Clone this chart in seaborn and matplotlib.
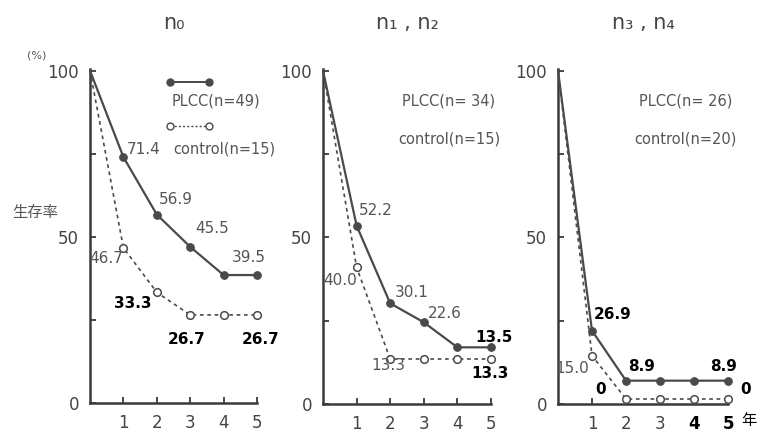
import matplotlib
matplotlib.use("Agg")
import numpy as np
import pandas as pd
import seaborn as sns
import matplotlib.pyplot as plt

# data (y = plotted position, labels = printed values)
years = [0, 1, 2, 3, 4, 5]

plcc_n0 = [100, 74, 56.7, 47, 38.5, 38.5]
ctrl_n0 = [100, 46.7, 33.3, 26.5, 26.5, 26.5]
plcc_n12 = [100, 53.5, 30.2, 24.5, 17, 17]
ctrl_n12 = [100, 41, 13.5, 13.5, 13.5, 13.5]
plcc_n34 = [100, 22, 7, 7, 7, 7]
ctrl_n34 = [100, 14.5, 1.5, 1.5, 1.5, 1.5]

titles = ["n₀", "n₁ , n₂", "n₃ , n₄"]
legend_plcc = ["PLCC(n=49)", "PLCC(n= 34)", "PLCC(n= 26)"]
legend_ctrl = ["control(n=15)", "control(n=15)", "control(n=20)"]

# (year, text) for the printed numbers
lab_plcc_n0 = [(1, "71.4"), (2, "56.9"), (3, "45.5"), (5, "39.5")]
lab_ctrl_n0 = [(1, "46.7"), (2, "33.3"), (3, "26.7"), (5, "26.7")]
lab_plcc_n12 = [(1, "52.2"), (2, "30.1"), (3, "22.6"), (5, "13.5")]
lab_ctrl_n12 = [(1, "40.0"), (2, "13.3"), (5, "13.3")]
lab_plcc_n34 = [(1, "26.9"), (2, "8.9"), (5, "8.9")]
lab_ctrl_n34 = [(1, "15.0"), (2, "0"), (5, "0")]

# label placement: (dx px, dy px, ha, bold)
pos_plcc = [
    [(3, 8, "left", False), (2, 15, "left", False), (5, 18, "left", False), (-8, 18, "center", False)],
    [(2, 15, "left", False), (5, 11, "left", False), (4, 9, "left", False), (3, 10, "center", True)],
    [(2, 16, "left", True), (2, 14, "left", True), (-4, 14, "center", True)],
]
pos_ctrl = [
    [(0, -11, "right", False), (-5, -11, "right", True), (-4, -25, "center", True), (4, -25, "center", True)],
    [(0, -13, "right", False), (-2, -7, "center", False), (-1, -14, "center", True)],
    [(-3, -13, "right", False), (-25, 10, "center", True), (12, 10, "left", True)],
]

sns.set_style("ticks")
plt.rcParams["font.family"] = ["DejaVu Sans", "Noto Sans CJK JP"]

fig = plt.figure(figsize=(7.57, 4.34), dpi=100)
boxes = [
    [90 / 757, 1 - 403 / 434, 167 / 757, 334 / 434],
    [323 / 757, 1 - 404 / 434, 168 / 757, 335 / 434],
    [558 / 757, 1 - 404 / 434, 170 / 757, 335 / 434],
]
plcc_all = [plcc_n0, plcc_n12, plcc_n34]
ctrl_all = [ctrl_n0, ctrl_n12, ctrl_n34]
lab_plcc_all = [lab_plcc_n0, lab_plcc_n12, lab_plcc_n34]
lab_ctrl_all = [lab_ctrl_n0, lab_ctrl_n12, lab_ctrl_n34]

line_col = "#4a4a4a"
text_col = "#555555"

for i in range(3):
    ax = fig.add_axes(boxes[i])
    df = pd.DataFrame({"year": years, "plcc": plcc_all[i], "ctrl": ctrl_all[i]})
    sns.lineplot(data=df, x="year", y="ctrl", ax=ax, color=line_col, lw=1.2,
                 dashes=False, linestyle=(0, (2.2, 2.2)), marker="o", markersize=5.5,
                 markerfacecolor="white", markeredgecolor=line_col, markeredgewidth=1.1,
                 markevery=slice(1, None), clip_on=False, zorder=3)
    sns.lineplot(data=df, x="year", y="plcc", ax=ax, color=line_col, lw=1.6,
                 marker="o", markersize=5.5, markerfacecolor=line_col,
                 markeredgecolor=line_col, markevery=slice(1, None),
                 clip_on=False, zorder=4)

    ax.set_xlim(0, 5)
    ax.set_ylim(0, 100.5)
    ax.set_xticks([1, 2, 3, 4, 5])
    ax.set_yticks([0, 25, 50, 75, 100])
    ax.set_yticklabels(["0", "", "50", "", "100"])
    ax.tick_params(direction="in", length=4, width=1.3, colors="#3a3a3a",
                   labelsize=12, labelcolor="#444444")
    ax.tick_params(axis="x", pad=8)
    ax.tick_params(axis="y", pad=8)
    for s in ["top", "right"]:
        ax.spines[s].set_visible(False)
    for s in ["left", "bottom"]:
        ax.spines[s].set_linewidth(1.8)
        ax.spines[s].set_color("#3a3a3a")
    ax.set_xlabel("")
    ax.set_ylabel("")

    ax.set_title(titles[i], fontsize=15, color="#444444", pad=29)

    for (yr, txt), (dx, dy, ha, bold) in zip(lab_plcc_all[i], pos_plcc[i]):
        ax.annotate(txt, (yr, plcc_all[i][yr]), xytext=(dx, dy), textcoords="offset pixels",
                    ha=ha, va="center", fontsize=11,
                    color="black" if bold else text_col,
                    fontweight="bold" if bold else "normal")
    for (yr, txt), (dx, dy, ha, bold) in zip(lab_ctrl_all[i], pos_ctrl[i]):
        ax.annotate(txt, (yr, ctrl_all[i][yr]), xytext=(dx, dy), textcoords="offset pixels",
                    ha=ha, va="center", fontsize=11,
                    color="black" if bold else text_col,
                    fontweight="bold" if bold else "normal")

    if i == 0:
        # hand drawn legend samples
        ax.plot([0.48, 0.71], [0.96, 0.96], transform=ax.transAxes, color=line_col, lw=1.4,
                marker="o", markersize=5, clip_on=False)
        ax.plot([0.48, 0.71], [0.83, 0.83], transform=ax.transAxes, color=line_col, lw=1,
                linestyle=(0, (1.5, 1.5)), marker="o", markersize=5, markerfacecolor="white",
                clip_on=False)
        ax.text(0.49, 0.905, legend_plcc[i], transform=ax.transAxes, fontsize=10.5,
                color=text_col, va="center", ha="left")
        ax.text(0.50, 0.76, legend_ctrl[i], transform=ax.transAxes, fontsize=10.5,
                color=text_col, va="center", ha="left")
        ax.text(-0.32, 1.04, "(%)", transform=ax.transAxes, fontsize=8,
                color=text_col, ha="center", va="center")
        ax.text(-0.33, 0.57, "生存率", transform=ax.transAxes, fontsize=11,
                color=text_col, ha="center", va="center")
    else:
        ax.text(0.75, 0.905, legend_plcc[i], transform=ax.transAxes, fontsize=10.5,
                color=text_col, va="center", ha="center")
        ax.text(0.75, 0.79, legend_ctrl[i], transform=ax.transAxes, fontsize=10.5,
                color=text_col, va="center", ha="center")

    if i == 2:
        ax.text(1.12, -0.05, "年", transform=ax.transAxes, fontsize=11,
                color="black", ha="center", va="center")
        for lbl in ax.get_xticklabels()[3:]:
            lbl.set_fontweight("bold")
            lbl.set_color("black")

fig.savefig("out.png", dpi=100, facecolor="white")
